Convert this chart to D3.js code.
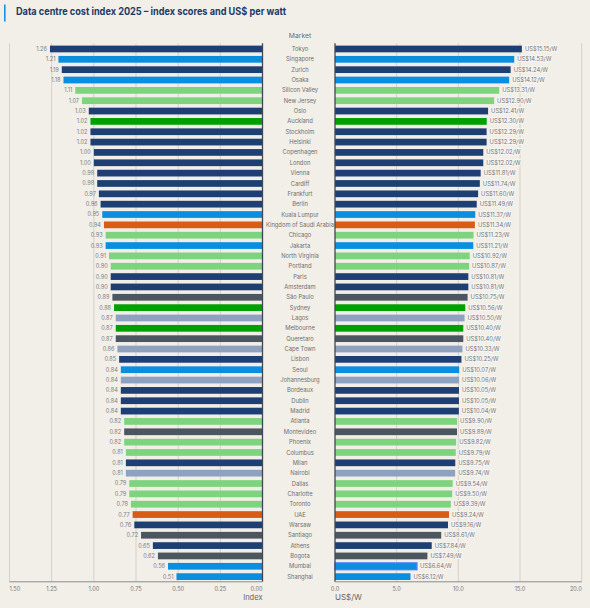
<!DOCTYPE html>
<html>
<head>
<meta charset="utf-8">
<script src="https://cdn.jsdelivr.net/npm/d3@7"></script>
<style>
  body { margin: 0; background: #f2eee8; }
  svg { display: block; font-family: Inter, "Noto Sans", sans-serif; }
</style>
</head>
<body>
<div id="chart"></div>
<script>
// data
const markets = ["Tokyo", "Singapore", "Zurich", "Osaka", "Silicon Valley", "New Jersey", "Oslo",
  "Auckland", "Stockholm", "Helsinki", "Copenhagen", "London", "Vienna", "Cardiff", "Frankfurt",
  "Berlin", "Kuala Lumpur", "Kingdom of Saudi Arabia", "Chicago", "Jakarta", "North Virginia",
  "Portland", "Paris", "Amsterdam", "São Paulo", "Sydney", "Lagos", "Melbourne", "Queretaro",
  "Cape Town", "Lisbon", "Seoul", "Johannesburg", "Bordeaux", "Dublin", "Madrid", "Atlanta",
  "Montevideo", "Phoenix", "Columbus", "Milan", "Nairobi", "Dallas", "Charlotte", "Toronto",
  "UAE", "Warsaw", "Santiago", "Athens", "Bogota", "Mumbai", "Shanghai"];

const indexScores = [1.26, 1.21, 1.19, 1.18, 1.11, 1.07, 1.03, 1.02, 1.02, 1.02, 1.00, 1.00, 0.98,
  0.98, 0.97, 0.96, 0.95, 0.94, 0.93, 0.93, 0.91, 0.90, 0.90, 0.90, 0.89, 0.88, 0.87, 0.87, 0.87,
  0.86, 0.85, 0.84, 0.84, 0.84, 0.84, 0.84, 0.82, 0.82, 0.82, 0.81, 0.81, 0.81, 0.79, 0.79, 0.78,
  0.77, 0.76, 0.72, 0.65, 0.62, 0.56, 0.51];

const usdPerWatt = [15.15, 14.53, 14.24, 14.12, 13.31, 12.90, 12.41, 12.30, 12.29, 12.29, 12.02,
  12.02, 11.81, 11.74, 11.60, 11.49, 11.37, 11.34, 11.23, 11.21, 10.92, 10.87, 10.81, 10.81, 10.75,
  10.56, 10.50, 10.40, 10.40, 10.33, 10.25, 10.07, 10.06, 10.05, 10.05, 10.04, 9.90, 9.89, 9.82,
  9.79, 9.75, 9.74, 9.54, 9.50, 9.39, 9.24, 9.16, 8.61, 7.84, 7.49, 6.64, 6.12];

// colour group of each bar (as coloured in the source)
const groups = [0, 1, 0, 1, 2, 2, 0, 3, 0, 0, 0, 0, 0, 0, 0, 0, 1, 4, 2, 1, 2, 2, 0, 0, 5, 3, 6, 3,
  5, 6, 0, 1, 6, 0, 0, 0, 2, 5, 2, 2, 0, 6, 2, 2, 2, 4, 0, 5, 0, 5, 1, 1];

const indexTicks = [1.5, 1.25, 1.0, 0.75, 0.5, 0.25, 0];
const usdTicks = [0, 5, 10, 15, 20];
const highlighted = "Mumbai";

const data = markets.map((m, i) => ({
  market: m, index: indexScores[i], usd: usdPerWatt[i], group: groups[i]
}));

const width = 590, height = 608;
const plotTop = 43.8, plotBottom = 581.8;

const svg = d3.select("#chart").append("svg")
  .attr("width", width)
  .attr("height", height);

svg.append("rect").attr("width", width).attr("height", height).attr("fill", "#f2eee8");

const colour = d3.scaleOrdinal()
  .domain([0, 1, 2, 3, 4, 5, 6])
  .range(["#1e3f73", "#0a8ee0", "#7ed37e", "#00a000", "#d95b16", "#4c5660", "#8ea1bf"]);

// scales
const xLeft = d3.scaleLinear().domain([1.5, 0]).range([9.5, 262.5]);
const xRight = d3.scaleLinear().domain([0, 20]).range([335, 581.7]);
const y = d3.scaleBand().domain(markets).range([plotTop, plotBottom])
  .paddingInner(0.35).paddingOuter(0.175);

// title
svg.append("rect").attr("x", 4).attr("y", 4.5).attr("width", 1.6).attr("height", 17)
  .attr("fill", "#1a8fe3");
svg.append("text")
  .attr("x", 16).attr("y", 14.5)
  .attr("font-size", 10.2).attr("font-weight", 700)
  .attr("fill", "#213a66")
  .attr("textLength", 270).attr("lengthAdjust", "spacingAndGlyphs")
  .text("Data centre cost index 2025 \u2013 index scores and US$ per watt");

// gridlines
svg.append("g").selectAll("line").data(indexTicks.filter(t => t !== 0)).join("line")
  .attr("x1", d => xLeft(d)).attr("x2", d => xLeft(d))
  .attr("y1", plotTop - 0.5).attr("y2", plotBottom)
  .attr("stroke", "#d6d1c8").attr("stroke-width", 1);
svg.append("g").selectAll("line").data(usdTicks.filter(t => t !== 0)).join("line")
  .attr("x1", d => xRight(d)).attr("x2", d => xRight(d))
  .attr("y1", plotTop - 0.5).attr("y2", plotBottom)
  .attr("stroke", "#d6d1c8").attr("stroke-width", 1);

// left bars (index)
svg.append("g").selectAll("rect").data(data).join("rect")
  .attr("x", d => xLeft(d.index))
  .attr("y", d => y(d.market))
  .attr("width", d => xLeft(0) - xLeft(d.index))
  .attr("height", y.bandwidth())
  .attr("fill", d => colour(d.group));

// right bars (US$/W)
svg.append("g").selectAll("rect").data(data).join("rect")
  .attr("x", xRight(0))
  .attr("y", d => y(d.market))
  .attr("width", d => xRight(d.usd) - xRight(0))
  .attr("height", y.bandwidth())
  .attr("fill", d => colour(d.group))
  .attr("stroke", d => d.market === highlighted ? "#4d7dfa" : "none")
  .attr("stroke-width", 1.4);

// zero lines
svg.append("line").attr("x1", xLeft(0)).attr("x2", xLeft(0)).attr("y1", plotTop - 0.5).attr("y2", plotBottom)
  .attr("stroke", "#3e4752").attr("stroke-width", 1.3);
svg.append("line").attr("x1", xRight(0)).attr("x2", xRight(0)).attr("y1", plotTop - 0.5).attr("y2", plotBottom)
  .attr("stroke", "#3e4752").attr("stroke-width", 1.3);

// bottom axis lines
svg.append("line").attr("x1", xLeft(1.5)).attr("x2", xLeft(0)).attr("y1", plotBottom).attr("y2", plotBottom)
  .attr("stroke", "#8c8c8c").attr("stroke-width", 1);
svg.append("line").attr("x1", xRight(0)).attr("x2", xRight(20)).attr("y1", plotBottom).attr("y2", plotBottom)
  .attr("stroke", "#8c8c8c").attr("stroke-width", 1);

// value labels
svg.append("g").selectAll("text").data(data).join("text")
  .attr("x", d => xLeft(d.index) - 3)
  .attr("y", d => y(d.market) + y.bandwidth() / 2)
  .attr("dy", "0.35em")
  .attr("text-anchor", "end")
  .attr("font-size", 5.6)
  .attr("fill", "#7a7f87")
  .text(d => d3.format(".2f")(d.index));

svg.append("g").selectAll("text").data(data).join("text")
  .attr("x", d => xRight(d.usd) + 3)
  .attr("y", d => y(d.market) + y.bandwidth() / 2)
  .attr("dy", "0.35em")
  .attr("font-size", 5.8)
  .attr("fill", "#6f747c")
  .attr("stroke", "#f7f5f1").attr("stroke-width", 2).attr("paint-order", "stroke")
  .text(d => "US$" + d3.format(".2f")(d.usd) + "/W");

// market names in the middle
svg.append("text").attr("x", 300).attr("y", 36).attr("dy", "0.35em")
  .attr("text-anchor", "middle").attr("font-size", 6.8).attr("fill", "#6e6e6e")
  .text("Market");
svg.append("g").selectAll("text").data(data).join("text")
  .attr("x", 300)
  .attr("y", d => y(d.market) + y.bandwidth() / 2)
  .attr("dy", "0.35em")
  .attr("text-anchor", "middle")
  .attr("font-size", 5.8)
  .attr("fill", "#6e6e6e")
  .text(d => d.market);

// tick labels
svg.append("g").selectAll("text").data(indexTicks).join("text")
  .attr("x", d => xLeft(d))
  .attr("y", 589).attr("dy", "0.35em")
  .attr("text-anchor", (d, i) => i === 0 ? "start" : i === indexTicks.length - 1 ? "end" : "middle")
  .attr("font-size", 5.6).attr("fill", "#777")
  .text(d => d3.format(".2f")(d));
svg.append("g").selectAll("text").data(usdTicks).join("text")
  .attr("x", d => xRight(d))
  .attr("y", 589).attr("dy", "0.35em")
  .attr("text-anchor", (d, i) => i === usdTicks.length - 1 ? "end" : "middle")
  .attr("font-size", 5.6).attr("fill", "#777")
  .text(d => d3.format(".1f")(d));

// axis titles
svg.append("text").attr("x", xLeft(0)).attr("y", 597).attr("dy", "0.35em")
  .attr("text-anchor", "end").attr("font-size", 7.5).attr("fill", "#666")
  .text("Index");
svg.append("text").attr("x", xRight(0)).attr("y", 597).attr("dy", "0.35em")
  .attr("font-size", 8).attr("fill", "#666")
  .text("US$/W");
</script>
</body>
</html>
